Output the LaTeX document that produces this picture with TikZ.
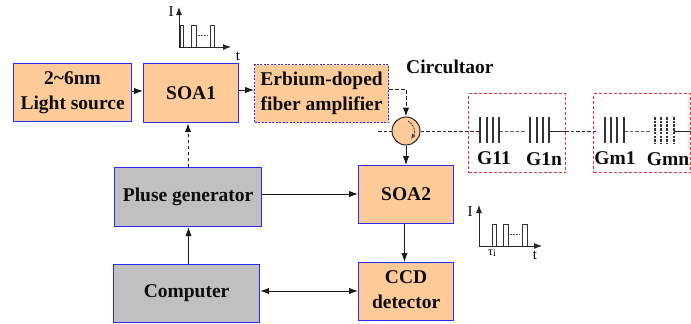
\documentclass[tikz,border=0pt]{standalone}
\usepackage{fontspec}
\setmainfont{Liberation Serif}
\usetikzlibrary{arrows.meta}
\definecolor{boxorange}{HTML}{FFCC99}
\definecolor{boxgray}{HTML}{C0C0C0}
\definecolor{boxblue}{HTML}{2A2AF0}
\definecolor{boxred}{HTML}{F03040}
\tikzset{
  x=1pt,y=-1pt,
  base/.style={draw=boxblue,line width=1.2pt,inner sep=0pt,align=center,anchor=north west,
    font=\fontsize{19.5}{25}\selectfont\bfseries,text=black!95},
  orangebox/.style={base,fill=boxorange},
  graybox/.style={base,fill=boxgray},
  conn/.style={draw=black!90,line width=1pt,-{Latex[length=9pt,width=6.5pt]}},
  connboth/.style={conn,{Latex[length=9pt,width=6.5pt]}-{Latex[length=9pt,width=6.5pt]}},
  dashconn/.style={conn,dash pattern=on 3.5pt off 2.5pt},
  fiber/.style={draw=black!85,line width=0.9pt,dash pattern=on 3.5pt off 2pt},
  solidfiber/.style={draw=black!85,line width=0.9pt},
  bragg/.style={draw=black!80,line width=1.1pt},
  braggdash/.style={bragg,dash pattern=on 2.5pt off 1.2pt},
  redbox/.style={draw=boxred,line width=1pt,dash pattern=on 3pt off 2pt,anchor=north west,inner sep=0pt},
  lab/.style={inner sep=0pt,font=\fontsize{19.5}{24}\selectfont\bfseries,text=black!95},
  plotlab/.style={inner sep=0pt,font=\fontsize{15}{17}\selectfont},
  axis/.style={draw=black!85,line width=0.9pt,-{Latex[length=8pt,width=6pt]}},
  pulse/.style={draw=black!80,line width=1pt},
  dots/.style={draw=black!70,line width=0.8pt,dash pattern=on 1.5pt off 1.5pt},
}
\begin{document}
\begin{tikzpicture}
\useasboundingbox (0,0) rectangle (691,324);
% boxes
\node[orangebox,minimum width=118pt,minimum height=58pt] (src) at (13,63) {2\textasciitilde6nm\\Light source};
\node[orangebox,minimum width=95pt,minimum height=59pt] (soa1) at (143,63) {SOA1};
\node[orangebox,minimum width=134pt,minimum height=58pt,dash pattern=on 2pt off 1.5pt] (edfa) at (254,64) {Erbium-doped\\fiber amplifier\rule[-3pt]{0pt}{3pt}};
\node[graybox,minimum width=147pt,minimum height=59pt] (pulsegen) at (114,167) {Pluse generator};
\node[graybox,minimum width=146pt,minimum height=58pt] (comp) at (113,264) {Computer};
\node[orangebox,minimum width=95pt,minimum height=58pt] (soa2) at (358,165) {SOA2};
\node[orangebox,minimum width=95pt,minimum height=58pt] (ccd) at (358,262) {CCD\\detector\rule[-5pt]{0pt}{5pt}};
% circulator
\node[circle,draw=black!85,fill=boxorange,line width=1pt,minimum size=28pt,inner sep=0pt] (circ) at (406,131) {};
\draw[draw=black!80,line width=0.8pt,dash pattern=on 2pt off 1pt,-{Latex[length=5pt,width=4pt,open]}]
  (408,121) .. controls (414,124) and (416,132) .. (411,139);
\node[lab,anchor=west] (circlab) at (406,67) {Circultaor};
% red groups
\node[redbox,minimum width=97pt,minimum height=79pt] (grp1) at (468,93) {};
\node[redbox,minimum width=97pt,minimum height=79pt] (grp2) at (593,93) {};
% fibre coordinates
\coordinate (inL) at (378,131);
\coordinate (g11l) at (480,131);
\coordinate (g11r) at (499,131);
\coordinate (g1nl) at (526,131);
\coordinate (g1nr) at (549,131);
\coordinate (grpedge) at (565,131);
\coordinate (gm1a) at (596,131);
\coordinate (gm1r) at (624,131);
\coordinate (gmna) at (650,131);
\coordinate (gmnr) at (674,131);
\coordinate (endR) at (691,131);
\draw[fiber] (inL) -- (circ.west);
\draw[fiber] (circ.east) -- (g11l);
\draw[fiber,draw=black!65] (g11r) -- (g1nl);
\draw[solidfiber] (g1nr) -- (grpedge);
\draw[fiber] (grpedge) -- (gm1a);
\draw[fiber,draw=black!65] (gm1r) -- (gmna);
\draw[solidfiber] (gmnr) -- (endR);
% gratings
\foreach \x in {480,487,493,499,530,537,543,549,605,611,617,624}
  \draw[bragg] (\x,117) -- (\x,143);
\foreach \x in {655,661,667,674}
  \draw[braggdash] (\x,117) -- (\x,143);
\node[lab] (g11) at (494,158) {G11};
\node[lab] (g1n) at (544,159) {G1n};
\node[lab] (gm1) at (615,158) {Gm1};
\node[lab] (gmn) at (668,159) {Gmn};
% connectors
\draw[conn] (src.east |- 0,91) -- (soa1.west |- 0,91);
\draw[conn] (soa1.east |- 0,90) -- (edfa.west |- 0,90);
\draw[dashconn] (edfa.east |- 0,89) -| (circ.north);
\draw[conn] (circ.south) -- (soa2.north -| circ.south);
\draw[dashconn] (pulsegen.north -| 188,0) -- (soa1.south -| 188,0);
\draw[conn] (comp.north -| 188.5,0) -- (pulsegen.south -| 188.5,0);
\draw[conn] (pulsegen.east |- 0,194) -- (soa2.west |- 0,194);
\draw[conn] (soa2.south -| 404.5,0) -- (ccd.north -| 404.5,0);
\draw[connboth] (comp.east |- 0,291) -- (ccd.west |- 0,291);
% inset 1
\coordinate (o1) at (179,47);
\draw[axis] (o1) -- (179,7);
\draw[axis] (o1) -- (231,47);
\draw[pulse] (180,47) -- (180,25) -- (183,25) -- (183,47);
\draw[pulse] (191,47) -- (191,25) -- (196,25) -- (196,47);
\draw[pulse] (210,47) -- (210,25) -- (214,25) -- (214,47);
\draw[dots] (198,35) -- (208,35);
\node[plotlab] (i1) at (171,12) {I};
\node[plotlab] (t1) at (238,56) {t};
% inset 2
\coordinate (o2) at (479,246);
\draw[axis] (o2) -- (479,205);
\draw[axis] (o2) -- (542,246);
\draw[pulse] (492,246) -- (492,224) -- (496,224) -- (496,246);
\draw[pulse] (503,246) -- (503,224) -- (508,224) -- (508,246);
\draw[pulse] (522,246) -- (522,224) -- (527,224) -- (527,246);
\draw[dots] (510,234) -- (520,234);
\node[plotlab] (i2) at (470,212) {I};
\node[plotlab] (t2) at (535,255) {t};
\node[inner sep=0pt,font=\fontsize{12}{13}\selectfont] (tau) at (492,253) {τ\raisebox{-0.1ex}{\fontsize{10}{11}\selectfont i}};
\end{tikzpicture}
\end{document}
